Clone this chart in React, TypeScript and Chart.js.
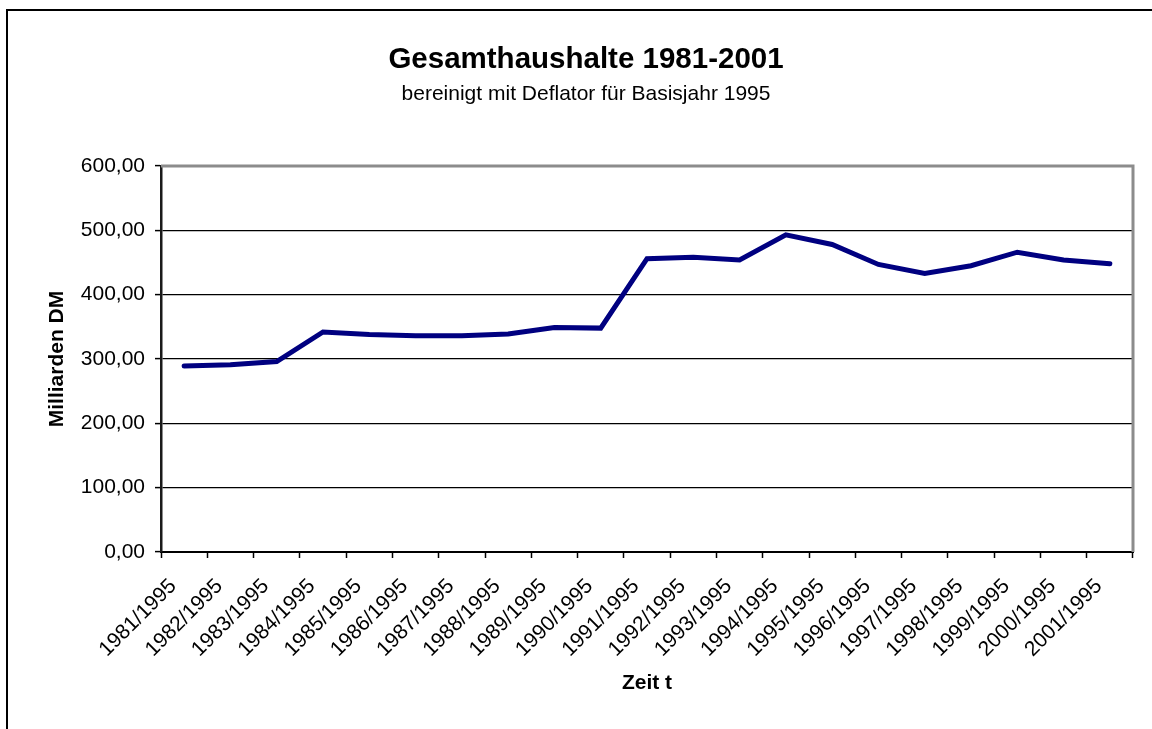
import React, { useEffect, useRef } from "react";
import { Chart, registerables } from "chart.js";

Chart.register(...registerables);

const categories: string[] = [
  "1981/1995", "1982/1995", "1983/1995", "1984/1995", "1985/1995", "1986/1995", "1987/1995",
  "1988/1995", "1989/1995", "1990/1995", "1991/1995", "1992/1995", "1993/1995", "1994/1995",
  "1995/1995", "1996/1995", "1997/1995", "1998/1995", "1999/1995", "2000/1995", "2001/1995",
];

const haushalte: number[] = [
  289, 291, 296, 342, 338, 336, 336, 339, 349, 348, 456,
  458, 454, 493, 478, 447, 433, 445, 466, 454, 448,
];

const yMin = 0;
const yMax = 600;
const yStep = 100;

const titleText = "Gesamthaushalte 1981-2001";
const subtitleText = "bereinigt mit Deflator für Basisjahr 1995";
const yAxisTitle = "Milliarden DM";
const xAxisTitle = "Zeit t";

const FONT = "'Liberation Sans', Arial, Helvetica, sans-serif";

const frame = {
  id: "frame",
  beforeDraw(chart: any) {
    const ctx = chart.ctx;
    ctx.save();
    ctx.fillStyle = "#ffffff";
    ctx.fillRect(0, 0, chart.width, chart.height);
    ctx.strokeStyle = "#000000";
    ctx.lineWidth = 2;
    ctx.strokeRect(7, 10, chart.width + 50, chart.height + 50);
    ctx.restore();
  },
  beforeDatasetsDraw(chart: any) {
    const { ctx, chartArea } = chart;
    ctx.save();
    ctx.strokeStyle = "#8c8c8c";
    ctx.lineWidth = 3;
    ctx.beginPath();
    ctx.moveTo(chartArea.left, chartArea.top);
    ctx.lineTo(chartArea.right, chartArea.top);
    ctx.lineTo(chartArea.right, chartArea.bottom);
    ctx.stroke();
    ctx.restore();
  },
};

export default function App() {
  const ref = useRef<HTMLCanvasElement | null>(null);

  useEffect(() => {
    if (!ref.current) return;
    const chart = new Chart(ref.current, {
      type: "line",
      data: {
        labels: categories,
        datasets: [
          {
            data: haushalte,
            borderColor: "#000080",
            backgroundColor: "#000080",
            borderWidth: 5,
            pointRadius: 0,
            tension: 0,
            borderCapStyle: "round",
            borderJoinStyle: "miter",
          },
        ],
      },
      options: {
        responsive: false,
        animation: false,
        events: [],
        layout: { padding: { left: 39, right: 19, top: 0, bottom: 0 } },
        plugins: {
          legend: { display: false },
          tooltip: { enabled: false },
          title: {
            display: true,
            text: titleText,
            color: "#000000",
            font: { family: FONT, size: 29.5, weight: "bold", lineHeight: 1.2 },
            padding: { top: 42, bottom: 0 },
          },
          subtitle: {
            display: true,
            text: subtitleText,
            color: "#000000",
            font: { family: FONT, size: 21, lineHeight: 1.2 },
            padding: { top: 4, bottom: 59.4 },
          },
        },
        scales: {
          x: {
            type: "category",
            offset: true,
            afterFit(scale: any) {
              scale.height = 177;
            },
            grid: {
              offset: true,
              drawOnChartArea: false,
              drawTicks: true,
              tickLength: 6,
              tickColor: "#000000",
              tickWidth: 1.5,
            },
            border: { display: true, color: "#000000", width: 2 },
            ticks: {
              autoSkip: false,
              minRotation: 45,
              maxRotation: 45,
              labelOffset: -11,
              padding: 16,
              color: "#000000",
              font: { family: FONT, size: 21 },
            },
            title: {
              display: true,
              text: xAxisTitle,
              color: "#000000",
              font: { family: FONT, size: 21, weight: "bold", lineHeight: 1.2 },
              padding: { top: 0, bottom: 33.4 },
            },
          },
          y: {
            min: yMin,
            max: yMax,
            afterFit(scale: any) {
              scale.width = 122;
            },
            grid: {
              drawTicks: true,
              tickLength: 6,
              tickColor: "#000000",
              tickWidth: 1.5,
              color: (c: any) =>
                c.tick && (c.tick.value === yMax || c.tick.value === yMin) ? "rgba(0,0,0,0)" : "#000000",
              lineWidth: 1.2,
            },
            border: { display: true, color: "#1a1a1a", width: 2.5 },
            ticks: {
              stepSize: yStep,
              padding: 10,
              color: "#000000",
              font: { family: FONT, size: 21 },
              callback: (v: any) => Number(v).toFixed(2).replace(".", ","),
            },
            title: {
              display: true,
              text: yAxisTitle,
              color: "#000000",
              font: { family: FONT, size: 21, weight: "bold", lineHeight: 1.2 },
              padding: { top: 5.4, bottom: 0 },
            },
          },
        },
      },
      plugins: [frame],
    });
    return () => chart.destroy();
  }, []);

  return (
    <canvas
      ref={ref}
      width={1152}
      height={729}
      style={{ position: "absolute", left: 0, top: 0, width: 1152, height: 729 }}
    />
  );
}
